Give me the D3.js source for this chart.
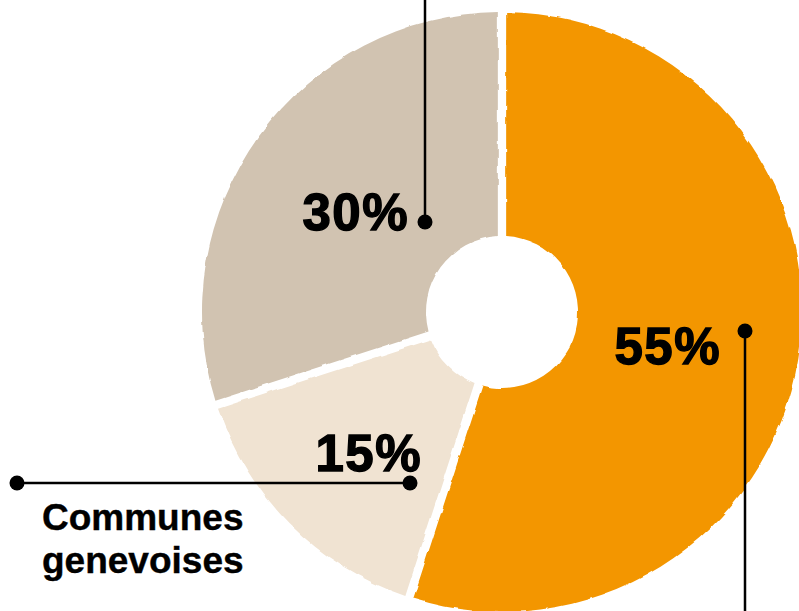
<!DOCTYPE html>
<html>
<head>
<meta charset="utf-8">
<script src="https://cdn.jsdelivr.net/npm/d3@7"></script>
<style>
  body { margin: 0; background: #fff; }
  svg { display: block; }
  text { font-family: "Liberation Sans", Arial, sans-serif; font-weight: bold; fill: #000; }
</style>
</head>
<body>
<div id="chart"></div>
<script>
// data
var shares = [55, 15, 30];
var shareLabels = ["55%", "15%", "30%"];
var colors = ["#f39600", "#f0e3d2", "#d1c3b1"];
var nameLines = [null, ["Communes", "genevoises"], null];

var width = 799, height = 611;
var cx = 502, cy = 312;
var outerR = 300, innerR = 76;

var svg = d3.select("#chart").append("svg")
    .attr("width", width)
    .attr("height", height);

// rough, hand cut edges
var defs = svg.append("defs");
var f = defs.append("filter").attr("id", "rough")
    .attr("x", "-5%").attr("y", "-5%").attr("width", "110%").attr("height", "110%");
f.append("feTurbulence").attr("type", "fractalNoise")
    .attr("baseFrequency", 0.06).attr("numOctaves", 2).attr("seed", 3).attr("result", "noise");
f.append("feDisplacementMap").attr("in", "SourceGraphic").attr("in2", "noise")
    .attr("scale", 3.5).attr("xChannelSelector", "R").attr("yChannelSelector", "G");

var pie = d3.pie().sort(null).value(function(d) { return d; });
var arc = d3.arc()
    .innerRadius(innerR)
    .outerRadius(outerR)
    .padAngle(0.032)
    .padRadius(260);

var g = svg.append("g")
    .attr("transform", "translate(" + cx + "," + cy + ")");

g.append("g").attr("filter", "url(#rough)")
  .selectAll("path")
    .data(pie(shares))
  .enter().append("path")
    .attr("d", arc)
    .attr("fill", function(d, i) { return colors[i]; });

// label and leader positions (layout only)
var labelPos = [
  {x: 721, y: 364, dot: [745, 331], end: [745, 611]},
  {x: 422, y: 471, dot: [410, 483], end: [17, 483]},
  {x: 409, y: 230, dot: [425, 222], end: [425, 0]}
];

var ann = svg.append("g");

shares.forEach(function(v, i) {
  var p = labelPos[i];
  ann.append("line")
      .attr("x1", p.dot[0]).attr("y1", p.dot[1])
      .attr("x2", p.end[0]).attr("y2", p.end[1])
      .attr("stroke", "#000").attr("stroke-width", 2.5);
  ann.append("circle")
      .attr("cx", p.dot[0]).attr("cy", p.dot[1]).attr("r", 7.5);
  if (i === 1) {
    ann.append("circle")
        .attr("cx", p.end[0]).attr("cy", p.end[1]).attr("r", 7.5);
  }
  ann.append("text")
      .attr("x", p.x).attr("y", p.y)
      .attr("text-anchor", "end")
      .style("font-size", "51px")
      .style("letter-spacing", "1.5px")
      .style("stroke", "#000").style("stroke-width", 1.4)
      .text(shareLabels[i]);
});

// category name under the left leader
var nm = ann.append("text")
    .attr("x", 42).attr("y", 530)
    .style("font-size", "37px")
    .style("stroke", "#000").style("stroke-width", 0.4);
nm.selectAll("tspan")
    .data(nameLines[1])
  .enter().append("tspan")
    .attr("x", 42)
    .attr("dy", function(d, i) { return i ? 43 : 0; })
    .text(function(d) { return d; });
</script>
</body>
</html>
